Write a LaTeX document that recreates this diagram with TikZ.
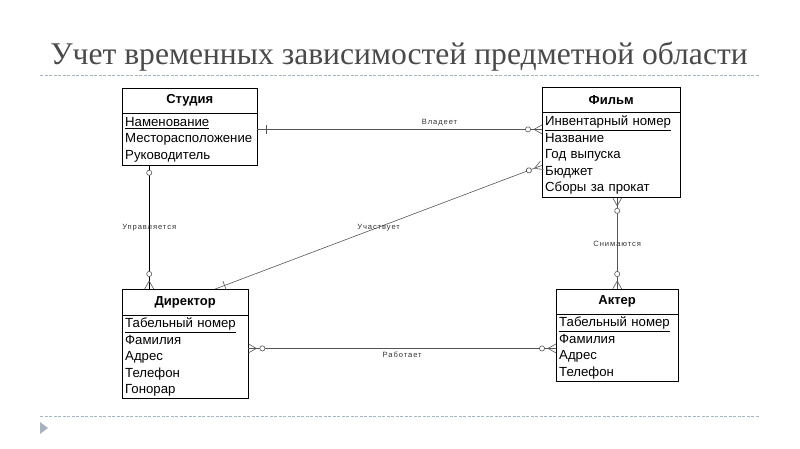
\documentclass[tikz,border=0pt]{standalone}
\usepackage{fontspec}
\setmainfont{Liberation Serif}
\setsansfont{Liberation Sans}
\newfontfamily\spacedsans[LetterSpace=12]{Liberation Sans}
\usetikzlibrary{positioning}
\usetikzlibrary{decorations.markings}
\definecolor{titlegray}{HTML}{4A4A4A}
\definecolor{rulegray}{HTML}{A7B3BF}
\definecolor{linegray}{HTML}{555555}

\tikzset{
  enthead/.style={draw, anchor=north west, inner sep=0pt,
    font=\sffamily\bfseries\fontsize{13}{15}\selectfont},
  entbody/.style={draw, inner xsep=3pt, inner ysep=0pt, align=left,
    font=\sffamily\fontsize{13.2}{16.5}\selectfont},
  rel/.style={draw=linegray, line width=0.6pt},
  rellabel/.style={inner sep=1pt, text=black!80, font=\spacedsans\fontsize{7.6}{8}\selectfont},
  bar start/.style={postaction={decorate, decoration={markings,
    mark=at position #1 with {\draw[linegray, line width=0.6pt] (0,-4.5pt) -- (0,4.5pt);}}}},
  ring start/.style={postaction={decorate, decoration={markings,
    mark=at position #1 with {\draw[linegray, line width=0.6pt, fill=white] (0,0) circle[radius=2.6pt];}}}},
  ring end/.style={postaction={decorate, decoration={markings,
    mark=at position -#1 with {\draw[linegray, line width=0.6pt, fill=white] (0,0) circle[radius=2.6pt];}}}},
  crow start/.style={postaction={decorate, decoration={markings,
    mark=at position 0 with {\draw[linegray, line width=0.6pt] (8pt,0) -- (0,4.5pt) (8pt,0) -- (0,-4.5pt);}}}},
  crow end/.style={postaction={decorate, decoration={markings,
    mark=at position 1 with {\draw[linegray, line width=0.6pt] (-8pt,0) -- (0,4.5pt) (-8pt,0) -- (0,-4.5pt);}}}}
}

\begin{document}
\begin{tikzpicture}[x=1pt, y=-1pt]
\useasboundingbox (0,0) rectangle (800,449);

% title and rules
\node[text=titlegray, font=\fontsize{31.6}{34}\selectfont] (title) at (399,57) {Учет временных зависимостей предметной области};
\draw[rulegray, dashed, dash pattern=on 3pt off 1.5pt, line width=0.8pt] (40,75) -- (760,75);
\draw[rulegray, dashed, dash pattern=on 3pt off 1.5pt, line width=0.8pt] (40,416) -- (760,416);
\fill[rulegray] (40,422) -- (48,428) -- (40,434) -- cycle;

% entities
\node[enthead, minimum width=135pt, minimum height=25pt] (studio_head) at (122,88) {Студия};
\node[entbody, text width=129pt, minimum height=52pt, below=0pt of studio_head] (studio_body)
  {\underline{Наменование}\\Месторасположение\\Руководитель};

\node[enthead, minimum width=138pt, minimum height=25pt] (film_head) at (542,87) {Фильм};
\node[entbody, text width=132pt, minimum height=85pt, below=0pt of film_head] (film_body)
  {\underline{Инвентарный номер}\\Название\\Год выпуска\\Бюджет\\Сборы за прокат};

\node[enthead, minimum width=126pt, minimum height=26pt] (dir_head) at (122,289) {Директор};
\node[entbody, text width=120pt, minimum height=83pt, below=0pt of dir_head] (dir_body)
  {\underline{Табельный номер}\\Фамилия\\Адрес\\Телефон\\Гонорар};

\node[enthead, minimum width=122pt, minimum height=25pt] (actor_head) at (556,289) {Актер};
\node[entbody, text width=116pt, minimum height=67pt, below=0pt of actor_head] (actor_body)
  {\underline{Табельный номер}\\Фамилия\\Адрес\\Телефон};

% relationships
\coordinate (own_a) at ([yshift=-16pt]studio_body.north east);
\draw[rel, bar start=9pt, ring end=14pt, crow end] (own_a) -- (own_a -| film_body.west)
  node[rellabel, pos=0.64, above=2pt] (own_lbl) {Владеет};

\coordinate (rule_a) at ([xshift=-40.5pt]studio_body.south);
\draw[rel, draw=black, line width=1pt, ring start=7pt, ring end=15pt, crow end] (rule_a) -- (rule_a |- dir_head.north)
  node[rellabel, midway] (rule_lbl) {Управляется};

\coordinate (part_a) at ([xshift=30pt]dir_head.north);
\coordinate (part_b) at ([yshift=-53pt]film_body.north west);
\draw[rel, bar start=10pt, ring end=14pt, crow end] (part_a) -- (part_b)
  node[rellabel, midway] (part_lbl) {Участвует};

\coordinate (shot_a) at ([xshift=6pt]film_body.south);
\draw[rel, crow start, ring start=13pt, ring end=15pt, crow end] (shot_a) -- (shot_a |- actor_head.north)
  node[rellabel, midway] (shot_lbl) {Снимаются};

\coordinate (work_a) at ([yshift=-33pt]dir_body.north east);
\draw[rel, crow start, ring start=14pt, ring end=14pt, crow end] (work_a) -- (work_a -| actor_body.west)
  node[rellabel, midway, below=2pt] (work_lbl) {Работает};
\end{tikzpicture}
\end{document}
